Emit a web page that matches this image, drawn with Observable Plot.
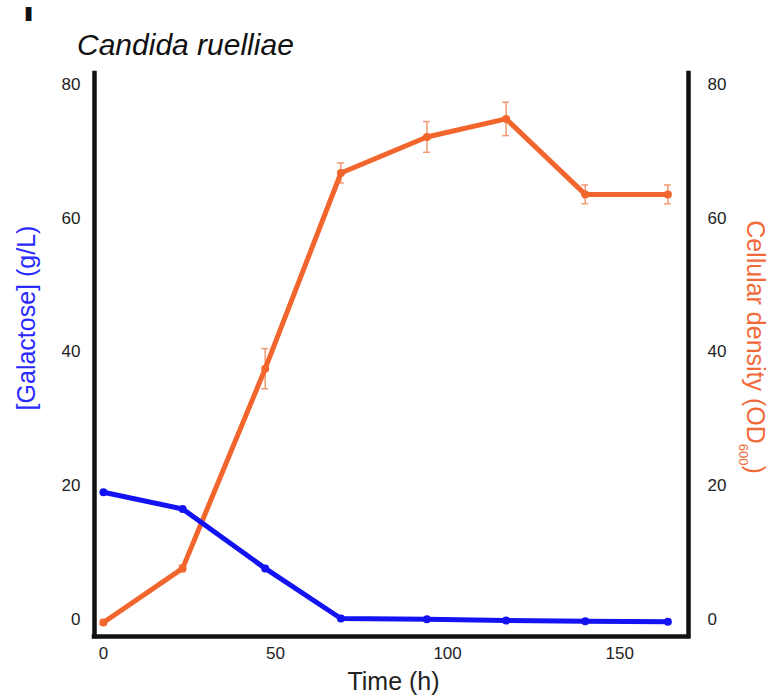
<!DOCTYPE html>
<html><head><meta charset="utf-8">
<script src="https://cdn.jsdelivr.net/npm/d3@7"></script>
<script src="https://cdn.jsdelivr.net/npm/@observablehq/plot@0.6"></script>
<style>
body{margin:0;background:#fff;font-family:"Liberation Sans",Arial,sans-serif}
#wrap{position:relative;width:771px;height:697px;overflow:hidden}
#panel{position:absolute;left:23px;top:4px;font-size:20px;font-weight:bold;line-height:1;color:#111;transform:scaleX(2);transform-origin:left top}
#title{position:absolute;left:77px;top:30px;font-size:30px;font-style:italic;line-height:1;color:#111;white-space:nowrap}
#chart{position:absolute;left:0;top:0}
</style></head><body>
<div id="wrap">
<div id="chart"></div>
<div id="panel">I</div>
<div id="title">Candida ruelliae</div>
</div>
<script>
const time = [0, 23, 47, 69, 94, 117, 140, 164];
const galactose = [19.0, 16.5, 7.6, 0.1, 0.0, -0.2, -0.3, -0.4];
const od600 = [-0.5, 7.6, 37.5, 66.8, 72.2, 74.9, 63.6, 63.6];
const od600Err = [0.3, 0.5, 3.0, 1.5, 2.3, 2.5, 1.4, 1.4];
const xTicks = [0, 50, 100, 150];
const yTicks = [0, 20, 40, 60, 80];
const xLabel = "Time (h)";
const yLeftLabel = "[Galactose] (g/L)";
const yRightLabel = "Cellular density (OD600)";

const blue = "#1212f2";
const orange = "#f2652d";
const errColor = "#f29a70";

const data = time.map((t, i) => ({t, g: galactose[i], od: od600[i], e: od600Err[i]}));
const xDomain = [-2.6, 170];
const yDomain = [-2.6, 81.7];

const plot = Plot.plot({
  width: 771, height: 697,
  marginLeft: 94, marginRight: 83, marginTop: 73, marginBottom: 61,
  style: {fontFamily: '"Liberation Sans", Arial, sans-serif', fontSize: "17px", color: "#222", background: "transparent"},
  x: {domain: xDomain},
  y: {domain: yDomain},
  marks: [
    Plot.axisX({ticks: xTicks, tickSize: 0, tickPadding: 10, label: null, fontSize: 17}),
    Plot.axisY({ticks: yTicks, anchor: "left", tickSize: 0, tickPadding: 14, label: null, fontSize: 17}),
    Plot.axisY({ticks: yTicks, anchor: "right", tickSize: 0, tickPadding: 19, label: null, fontSize: 17}),
    Plot.ruleX([xDomain[0], xDomain[1]], {stroke: "#111", strokeWidth: 4.5, strokeLinecap: "square"}),
    Plot.ruleY([yDomain[0]], {stroke: "#111", strokeWidth: 4.5, strokeLinecap: "square"}),
    Plot.ruleX(data, {x: "t", y1: d => d.od - d.e, y2: d => d.od + d.e, stroke: errColor, strokeWidth: 1.5}),
    Plot.ruleY(data, {y: d => d.od - d.e, x1: d => d.t - 1, x2: d => d.t + 1, stroke: errColor, strokeWidth: 1.5}),
    Plot.ruleY(data, {y: d => d.od + d.e, x1: d => d.t - 1, x2: d => d.t + 1, stroke: errColor, strokeWidth: 1.5}),
    Plot.line(data, {x: "t", y: "od", stroke: orange, strokeWidth: 5}),
    Plot.dot(data, {x: "t", y: "od", r: 4, fill: orange}),
    Plot.line(data, {x: "t", y: "g", stroke: blue, strokeWidth: 5}),
    Plot.dot(data, {x: "t", y: "g", r: 4, fill: blue}),
    Plot.text([xLabel], {frameAnchor: "bottom", textAnchor: "middle", lineAnchor: "middle", dx: 2, dy: 45, fontSize: 25, fill: "#222"}),
    Plot.text([yLeftLabel], {frameAnchor: "left", textAnchor: "middle", lineAnchor: "middle", rotate: -90, dx: -68, dy: -37, fontSize: 25, fill: "#2a2aff"}),
    Plot.text([yRightLabel], {frameAnchor: "right", textAnchor: "middle", lineAnchor: "middle", rotate: 90, dx: 66, dy: -8, fontSize: 25, fill: "#f26a3a"})
  ]
});
document.getElementById("chart").appendChild(plot);

// subscript for OD600
d3.select(plot).selectAll("text").each(function() {
  if (this.textContent === yRightLabel) {
    const t = d3.select(this);
    t.text(null);
    t.append("tspan").text("Cellular density (OD");
    t.append("tspan").attr("font-size", 13).attr("dy", 8).text("600");
    t.append("tspan").attr("dy", -8).text(")");
  }
});
</script>
</body></html>
